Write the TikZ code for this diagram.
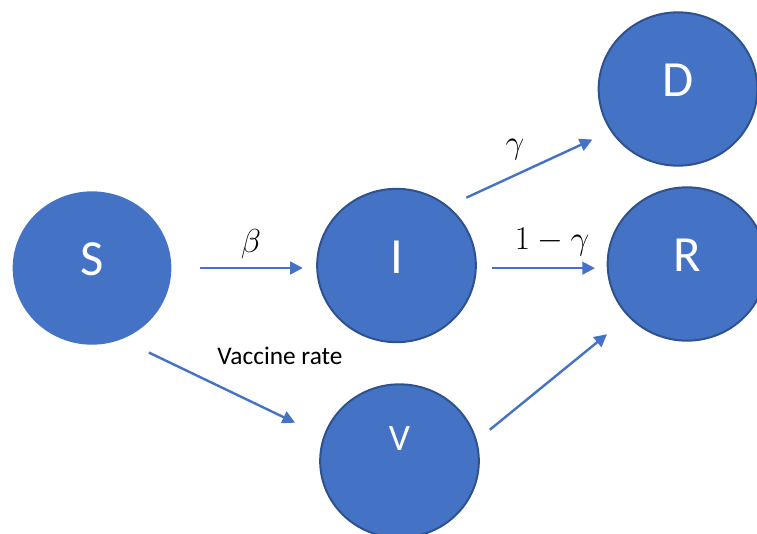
\documentclass[tikz,border=0pt]{standalone}
\usepackage{fontspec}
\setmainfont{Carlito}
\usepackage{tikz}
\usetikzlibrary{shapes.geometric,arrows.meta}
\definecolor{stblue}{HTML}{4472C4}
\definecolor{stedge}{HTML}{2F528F}
\tikzset{
  % --- compartments
  st/.style  = {ellipse, fill=stblue, draw=stedge, line width=1.5pt,
                minimum width=119pt, minimum height=115pt, inner sep=0pt,
                text=white, font=\fontsize{38}{40}\selectfont, text depth=13pt},
  % --- rates
  e/.style   = {-{Triangle[length=9.5pt,width=9.5pt]}, line width=1.8pt, draw=stblue},
  lbl/.style = {font=\fontsize{24}{28}\selectfont},
}
\begin{document}
\begin{tikzpicture}[x=0.75pt,y=-0.75pt]
  \useasboundingbox (0,0) rectangle (757,533);
  \node[st,draw=none] (S) at (92,268) {S};
  \node[st] (I) at (396.5,265.5) {I};
  \node[st] (D) at (678,89) {D};
  \node[st] (R) at (687,264) {R};
  \node[st,font=\fontsize{28}{30}\selectfont,text depth=33pt] (V) at (399.5,461) {V};
  \node[lbl] (beta) at (251,244) {$\beta$};
  \node[lbl] (gam) at (515,150) {$\gamma$};
  \node[lbl] (rec) at (552,242) {$1-\gamma$};
  \node[font=\fontsize{19}{22}\selectfont] (vac) at (280,356) {Vaccine rate};
  \draw[e,shorten <=20.8pt,shorten >=10pt] (S.east) -- (S.east -| I.west);
  \draw[e,shorten <=11.4pt,shorten >=8.8pt] ([yshift=-2pt]I.east) -- ([yshift=-2pt]I.east -| R.west);
  \draw[e,shorten <=15pt,shorten >=15pt] (I.49) -- (D.212);
  \draw[e,shorten <=22pt,shorten >=23.5pt] (S.-67) -- (V.162);
  \draw[e,shorten <=12.5pt,shorten >=20.5pt] (V.15) -- (R.222);
\end{tikzpicture}
\end{document}
